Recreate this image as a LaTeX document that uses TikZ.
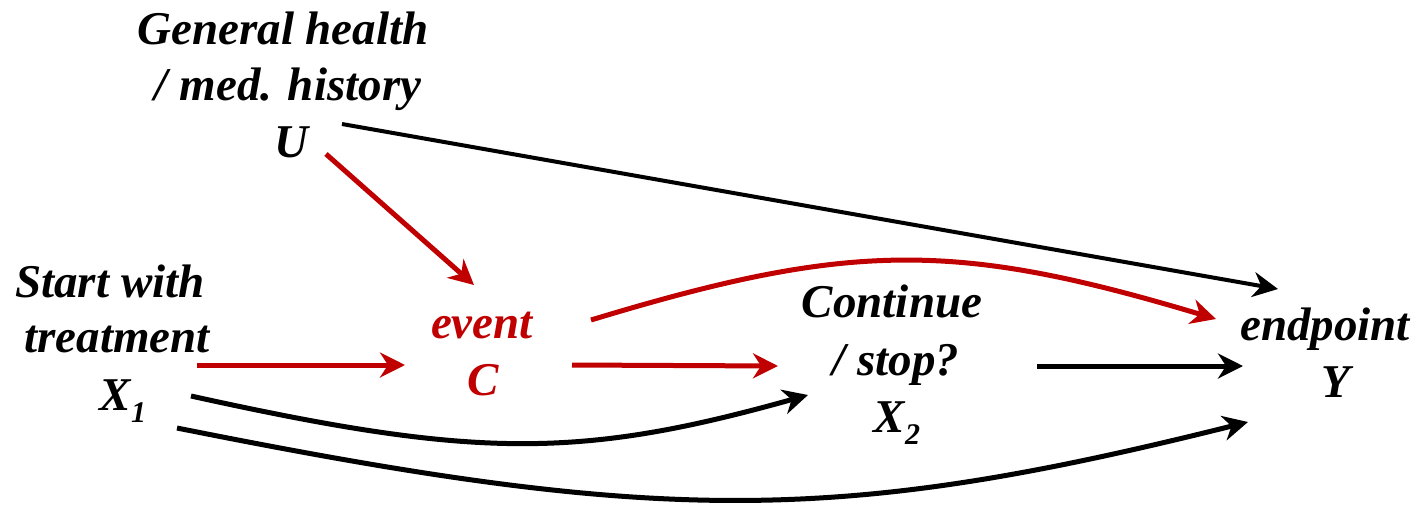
\documentclass[tikz,border=0pt]{standalone}
\usepackage{fontspec}
\setmainfont{Liberation Serif}
\newfontfamily\labelfont{LiberationSerif-BoldItalic.ttf}
\usetikzlibrary{arrows.meta}
\definecolor{causal}{RGB}{192,0,0}
\tikzset{
  lbl/.style={anchor=base, inner sep=0pt, font=\labelfont\fontsize{47}{56}\selectfont},
  redlbl/.style={lbl, text=causal},
  edge/.style={line width=5pt, -{Stealth[length=25pt,width=25pt,inset=8pt]}},
  rededge/.style={edge, draw=causal},
}
\newcommand{\lowidx}[1]{\raisebox{-12pt}{\fontsize{30}{30}\selectfont #1}}

\begin{document}
\begin{tikzpicture}[x=1pt,y=-1pt]
\useasboundingbox (0,0) rectangle (1419,504);

% variables and their descriptions
\node[lbl] (Ua) at (283,44)  {General health};
\node[lbl] (Ub) at (288,100) {/ med. history};
\node[lbl] (U)  at (291,157) {U};

\node[lbl] (X1a) at (110,297) {Start with};
\node[lbl] (X1b) at (117,352) {treatment};
\node[lbl] (X1)  at (123,410) {X\lowidx{1}};

\node[redlbl] (Ca) at (482,338) {event};
\node[redlbl] (C)  at (483,395) {C};

\node[lbl] (X2a) at (892,317) {Continue};
\node[lbl] (X2b) at (896,375) {/ stop?};
\node[lbl] (X2)  at (897,432) {X\lowidx{2}};

\node[lbl] (Ya) at (1325,340) {endpoint};
\node[lbl] (Y)  at (1336,397) {Y};

% connector end points
\coordinate (U-y)   at (342,124);
\coordinate (Y-u)   at (1278,289);
\coordinate (U-c)   at (326,154);
\coordinate (C-u)   at (474,285);
\coordinate (X1-c)  at (197,365);
\coordinate (C-x1)  at (405,365);
\coordinate (C-x2)  at (572,365);
\coordinate (X2-c)  at (778,366);
\coordinate (X2-y)  at (1037,366);
\coordinate (Y-x2)  at (1243,366);
\coordinate (C-y)   at (591,320);
\coordinate (Y-c)   at (1216,319);
\coordinate (X1-x2) at (191,396);
\coordinate (X2-x1) at (808,395);
\coordinate (X1-y)  at (177,428);
\coordinate (Y-x1)  at (1248,422);

% confounder paths
\draw[edge, line width=4pt] (U-y) -- (Y-u);
\draw[rededge] (U-c) -- (C-u);

% causal chain
\draw[rededge] (X1-c) -- (C-x1);
\draw[rededge] (C-x2) -- (X2-c);
\draw[edge] (X2-y) -- (Y-x2);
\draw[rededge] (C-y) .. controls (851,241) and (956,241) .. (Y-c);
\draw[edge] (X1-x2) .. controls (476,459) and (580,459) .. (X2-x1);
\draw[edge] (X1-y) .. controls (662,525) and (836,525) .. (Y-x1);
\end{tikzpicture}
\end{document}
